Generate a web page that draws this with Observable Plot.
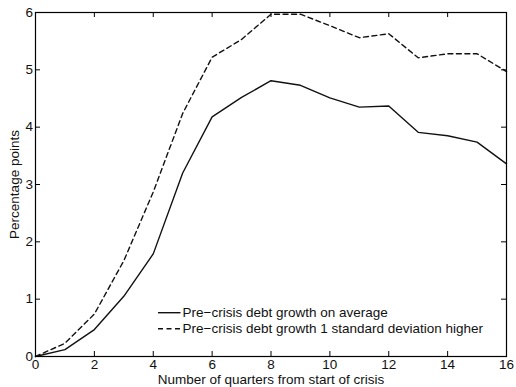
<!DOCTYPE html>
<html>
<head>
<meta charset="utf-8">
<script src="https://cdn.jsdelivr.net/npm/d3@7"></script>
<script src="https://cdn.jsdelivr.net/npm/@observablehq/plot@0.6"></script>
<style>
  html, body { margin: 0; padding: 0; background: #fff; }
  #chart { position: relative; width: 516px; height: 387px; }
  svg { font-family: "Liberation Sans", Arial, Helvetica, sans-serif; }
</style>
</head>
<body>
<div id="chart"></div>
<script>
const quarters = [0,1,2,3,4,5,6,7,8,9,10,11,12,13,14,15,16];
const averageGrowth = [0,0.12,0.47,1.05,1.79,3.20,4.18,4.52,4.81,4.73,4.51,4.35,4.37,3.91,3.85,3.74,3.36];
const highGrowth   = [0,0.23,0.74,1.67,2.87,4.24,5.22,5.53,5.97,5.97,5.77,5.56,5.63,5.21,5.28,5.28,4.97];
const seriesNames = ["Pre\u2212crisis debt growth on average", "Pre\u2212crisis debt growth 1 standard deviation higher"];
const xTicks = [0,2,4,6,8,10,12,14,16];
const yTicks = [0,1,2,3,4,5,6];

const FS = 13.5;
const data = [];
quarters.forEach((q, i) => {
  data.push({q, v: averageGrowth[i], s: seriesNames[0]});
  data.push({q, v: highGrowth[i], s: seriesNames[1]});
});

function legend(index, scales, values, dims) {
  const g = d3.create("svg:g");
  const rows = [{name: seriesNames[0], dash: null}, {name: seriesNames[1], dash: "5,3.5"}];
  rows.forEach((r, i) => {
    const y = 312.7 + i * 16;
    g.append("line").attr("x1", 158).attr("x2", 180.5).attr("y1", y).attr("y2", y)
      .attr("stroke", "#111").attr("stroke-width", 1.4).attr("stroke-dasharray", r.dash);
    g.append("text").attr("x", 182.5).attr("y", y).attr("dy", "0.35em")
      .attr("text-anchor", "start")
      .attr("font-size", FS).attr("fill", "#111").text(r.name);
  });
  return g.node();
}

const chart = Plot.plot({
  width: 516,
  height: 387,
  marginLeft: 35,
  marginRight: 10,
  marginTop: 12,
  marginBottom: 31,
  style: {fontSize: FS + "px", fontFamily: "Liberation Sans, Arial, sans-serif", color: "#111"},
  x: {domain: [0, 16]},
  y: {domain: [0, 6]},
  marks: [
    Plot.axisX({ticks: xTicks, tickSize: 0, tickPadding: 3, tickFormat: d3.format("d"), fontSize: FS, label: null}),
    Plot.axisY({ticks: yTicks, tickSize: 0, tickPadding: 2.5, tickFormat: d3.format("d"), fontSize: FS, label: null}),
    Plot.tickX(xTicks, {x: d => d, insetTop: 339, stroke: "#000"}),
    Plot.tickX(xTicks, {x: d => d, insetBottom: 339, stroke: "#000"}),
    Plot.tickY(yTicks, {y: d => d, insetRight: 466, stroke: "#000"}),
    Plot.tickY(yTicks, {y: d => d, insetLeft: 466, stroke: "#000"}),
    Plot.text(["Number of quarters from start of crisis"], {frameAnchor: "bottom", lineAnchor: "middle", dy: 23, fontSize: FS, fill: "#111"}),
    Plot.text(["Percentage points"], {frameAnchor: "left", textAnchor: "middle", lineAnchor: "middle", dx: -20.5, rotate: -90, fontSize: FS, fill: "#111"}),
    Plot.line(data.filter(d => d.s === seriesNames[0]), {x: "q", y: "v", stroke: "#111", strokeWidth: 1.4}),
    Plot.line(data.filter(d => d.s === seriesNames[1]), {x: "q", y: "v", stroke: "#111", strokeWidth: 1.4, strokeDasharray: "5,3.5"}),
    Plot.frame({stroke: "#000", strokeWidth: 1.2}),
    legend
  ]
});
document.getElementById("chart").appendChild(chart);
</script>
</body>
</html>
